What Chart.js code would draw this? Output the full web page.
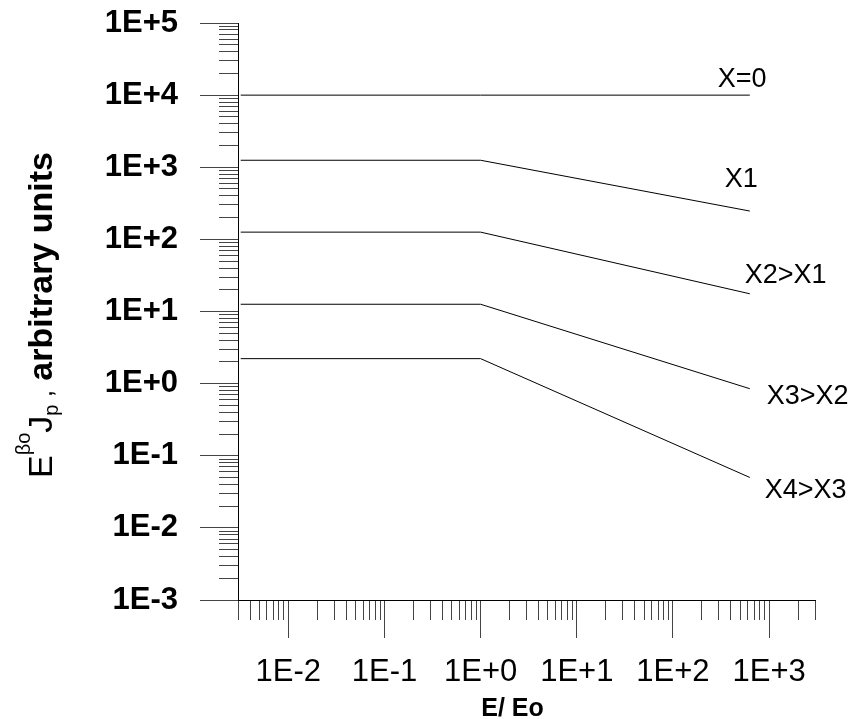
<!DOCTYPE html>
<html>
<head>
<meta charset="utf-8">
<script src="https://cdn.jsdelivr.net/npm/chart.js@4.4.1/dist/chart.umd.min.js"></script>
<style>
  html, body { margin: 0; padding: 0; background: #fff; }
  #wrap { width: 853px; height: 719px; }
</style>
</head>
<body>
<div id="wrap"><canvas id="chart"></canvas></div>
<script>
// E/Eo aux extrémités des segments
const energies = [3.2e-3, 1, 630];
const seriesNames = ['X=0', 'X1', 'X2>X1', 'X3>X2', 'X4>X3'];
const fluxX0 = [1e4, 1e4, 1e4];
const fluxX1 = [1250, 1250, 247];
const fluxX2 = [126, 126, 17.6];
const fluxX3 = [12.6, 12.6, 0.85];
const fluxX4 = [2.22, 2.22, 0.05];
const xTickLabels = ['1E-2', '1E-1', '1E+0', '1E+1', '1E+2', '1E+3'];
const yTickLabels = ['1E-3', '1E-2', '1E-1', '1E+0', '1E+1', '1E+2', '1E+3', '1E+4', '1E+5'];
const xMin = 3e-3, xMax = 3e3;
const yMin = 1e-3, yMax = 1e5;

const FONT = '"Liberation Sans", Arial, sans-serif';

// graduations log : 1..9 par décade, grandes graduations aux puissances de 10
function logTicks(min, max, labels) {
    const majors = labels.map(Number);
    const out = [];
    for (let e = Math.floor(Math.log10(min)); e <= Math.ceil(Math.log10(max)); e++) {
        for (let m = 1; m <= 9; m++) {
            const v = m * Math.pow(10, e);
            if (v < min * (1 - 1e-9) || v > max * (1 + 1e-9)) continue;
            const k = majors.findIndex(t => Math.abs(t - v) < v * 1e-9);
            out.push({ value: v, big: k >= 0, lbl: k >= 0 ? labels[k] : '' });
        }
    }
    return out;
}

const allSeries = [fluxX0, fluxX1, fluxX2, fluxX3, fluxX4];

const curveLabels = {
    id: 'curveLabels',
    afterDraw(chart) {
        const { ctx } = chart;
        const x = chart.scales.x, y = chart.scales.y;
        // décalages du texte par rapport au dernier point de chaque courbe
        const offs = [[-32, -8], [-25, -24], [-5, -11], [17, 15], [15, 21]];
        ctx.save();
        ctx.fillStyle = '#000';
        ctx.textAlign = 'left';
        ctx.textBaseline = 'alphabetic';
        ctx.font = '27px ' + FONT;
        allSeries.forEach((s, i) => {
            const px = x.getPixelForValue(energies[energies.length - 1]);
            const py = y.getPixelForValue(s[s.length - 1]);
            ctx.fillText(seriesNames[i], px + offs[i][0], py + offs[i][1]);
        });

        // titre de l'axe x
        ctx.font = 'bold 25px ' + FONT;
        ctx.textAlign = 'center';
        ctx.fillText('E/ Eo', (x.left + x.right) / 2 - 14, chart.height - 3);

        // titre de l'axe y (vertical, avec exposant et indice)
        ctx.translate(52, 478);
        ctx.rotate(-Math.PI / 2);
        ctx.textAlign = 'left';
        const parts = [
            { t: 'E', f: '34px ', dy: 0 },
            { t: '\u03B2o', f: '20px ', dy: -22 },
            { t: 'J', f: '34px ', dy: 0 },
            { t: 'p', f: '20px ', dy: 6 },
            { t: ' ,', f: '26px ', dy: 0 },
            { t: ' arbitrary units', f: 'bold 34px ', dy: 0 }
        ];
        let u = 0;
        parts.forEach(p => {
            ctx.font = p.f + FONT;
            ctx.fillText(p.t, u, p.dy);
            u += ctx.measureText(p.t).width;
        });
        ctx.restore();
    }
};

const tickDash = (outerFirst) => (c) => {
    if (c.tick && c.tick.big) return [];
    return outerFirst ? [0, 19, 19, 200] : [19, 200];
};

const noPad = (s) => { s.paddingTop = 0; s.paddingBottom = 0; s.paddingLeft = 0; s.paddingRight = 0; };

new Chart(document.getElementById('chart'), {
    type: 'line',
    data: {
        datasets: allSeries.map((s, i) => ({
            label: seriesNames[i],
            data: energies.map((e, j) => ({ x: e, y: s[j] })),
            borderColor: '#000',
            borderWidth: 1,
            pointRadius: 0,
            fill: false,
            tension: 0
        }))
    },
    options: {
        responsive: true,
        maintainAspectRatio: false,
        animation: false,
        devicePixelRatio: 1,
        layout: { padding: { top: 23, right: 38, left: 0, bottom: 0 } },
        plugins: {
            legend: { display: false },
            tooltip: { enabled: false }
        },
        scales: {
            x: {
                type: 'logarithmic',
                min: xMin,
                max: xMax,
                afterBuildTicks: (s) => { s.ticks = logTicks(xMin, xMax, xTickLabels); },
                afterFit: (s) => { s.height = 119; noPad(s); },
                border: { display: true, color: '#000', width: 1 },
                grid: {
                    drawOnChartArea: false,
                    drawTicks: true,
                    tickLength: 38,
                    tickColor: '#444',
                    tickWidth: 1,
                    tickBorderDash: tickDash(false)
                },
                ticks: {
                    autoSkip: false,
                    maxRotation: 0,
                    minRotation: 0,
                    padding: 16,
                    color: '#000',
                    font: { family: FONT, size: 31 },
                    callback: (v, i, t) => t[i].lbl || ''
                }
            },
            y: {
                type: 'logarithmic',
                min: yMin,
                max: yMax,
                afterBuildTicks: (s) => { s.ticks = logTicks(yMin, yMax, yTickLabels); },
                afterFit: (s) => { s.width = 238; noPad(s); },
                border: { display: true, color: '#000', width: 1 },
                grid: {
                    drawOnChartArea: false,
                    drawTicks: true,
                    tickLength: 38,
                    tickColor: '#444',
                    tickWidth: 1,
                    tickBorderDash: tickDash(true)
                },
                ticks: {
                    autoSkip: false,
                    padding: 22,
                    color: '#000',
                    font: { family: FONT, size: 31, weight: 'bold' },
                    callback: (v, i, t) => t[i].lbl || ''
                }
            }
        }
    },
    plugins: [curveLabels]
});
</script>
</body>
</html>
